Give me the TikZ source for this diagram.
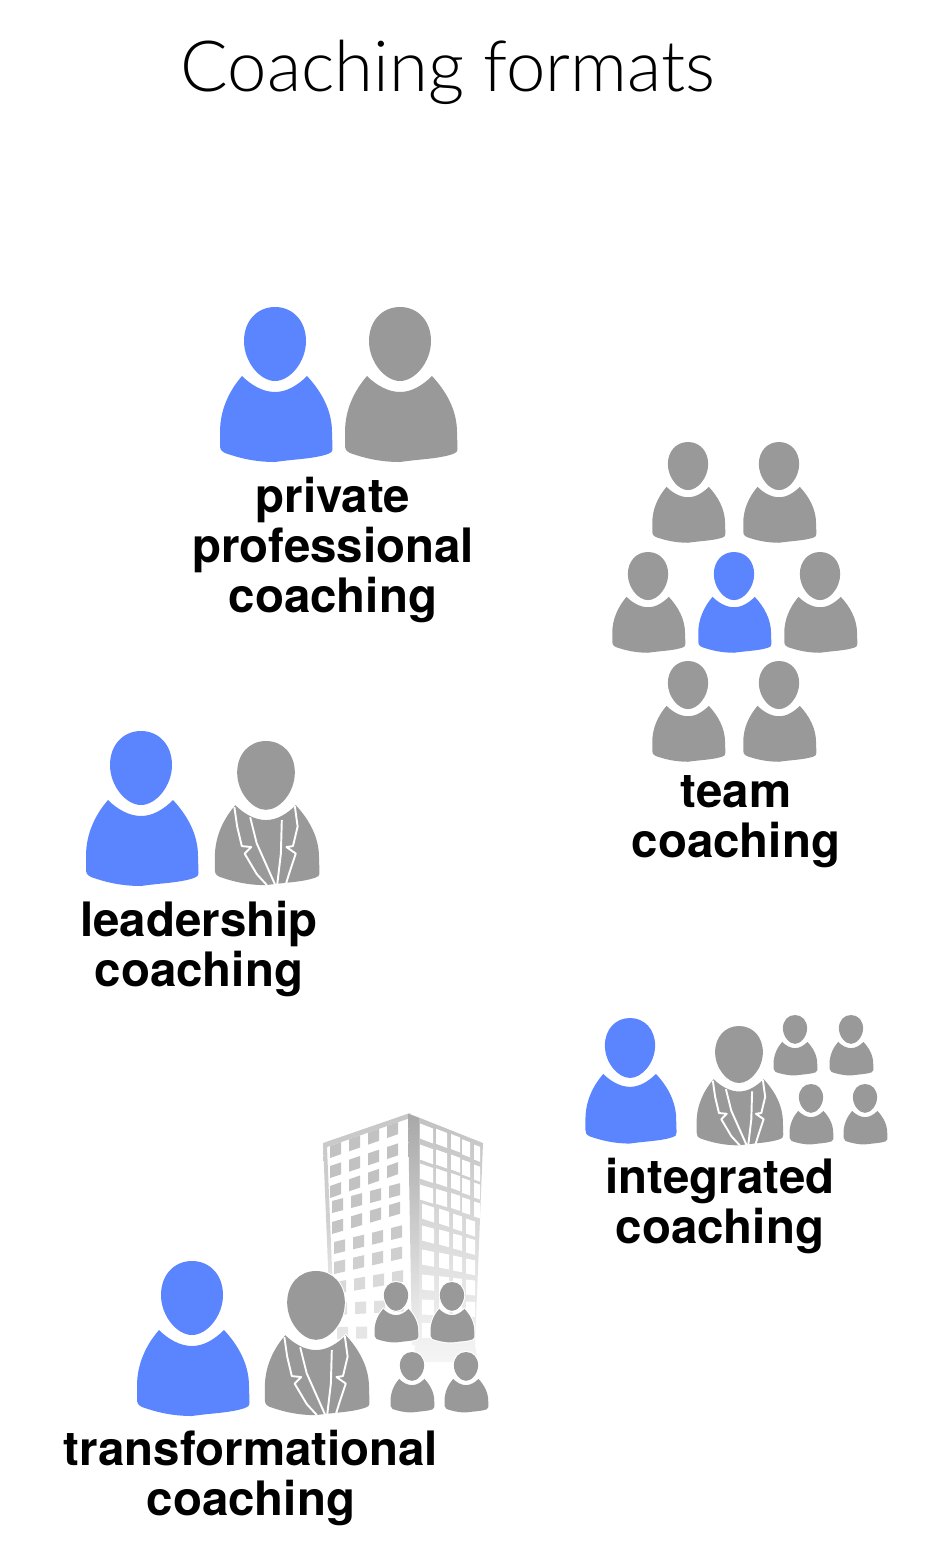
\documentclass[tikz,border=0pt]{standalone}
\usepackage{fontspec}
\setmainfont{TeX Gyre Heros}
\newfontfamily\titlefont[UprightFont=* Light]{Lato}
\usepackage{xcolor}
\usetikzlibrary{calc}
\definecolor{coachblue}{HTML}{5A85FF}
\definecolor{coachgray}{HTML}{999999}
\tikzset{
    label/.style={font=\fontsize{27}{28.3}\selectfont\bfseries, align=center, inner sep=0pt},
    personblue/.style={fill=coachblue},
    persongray/.style={fill=coachgray},
    halo/.style={draw=white, line width=1.2pt},
    pics/person/.style={code={
        % head
        \path[pic actions] (0,0) .. controls (18,0) and (31,14) .. (31,34)
            .. controls (31,55) and (15,74) .. (0,74)
            .. controls (-15,74) and (-31,55) .. (-31,34)
            .. controls (-31,14) and (-18,0) .. (0,0) -- cycle;
        % body
        \path[pic actions] (-33,69) .. controls (-24,78) and (-12,85) .. (0,85)
            .. controls (12,85) and (23,78) .. (32,69)
            .. controls (46,84) and (57,103) .. (57,125)
            -- (57.5,141) .. controls (57.5,145) and (56,146) .. (53,147)
            .. controls (38,152) and (20,152) .. (0,155)
            .. controls (-20,155) and (-36,151) .. (-50,146)
            .. controls (-54,144) and (-55,142) .. (-55,138)
            -- (-55,125) .. controls (-55,103) and (-46,84) .. (-33,69) -- cycle;
    }},
    pics/suit/.style={code={
        \draw[white, line width=1.1pt, line join=round]
            (-34,71) -- (-31,92) -- (-26,113) -- (-16,114) -- (-23,121) -- (-10,143) -- (1,155);
        \draw[white, line width=1.1pt] (-17,82) -- (-10,110) -- (10,155);
        \draw[white, line width=1.1pt] (17,85) -- (16,121) -- (12,155);
        \draw[white, line width=1.1pt, line join=round]
            (31,70) -- (34,92) -- (29,113) -- (22,114) -- (32,121) -- (26,139) -- (21,155);
    }},
}

\begin{document}
\begin{tikzpicture}[x=0.02cm, y=-0.02cm]
    \useasboundingbox (0,0) rectangle (937,1563);

    % Title
    \node[font=\titlefont\fontsize{40.2}{44}\selectfont, inner sep=0pt] (title) at (448,72) {Coaching formats};

    % Private professional coaching
    \pic[personblue] at (275,307) {person};
    \pic[persongray] at (400,307) {person};
    \node[label] (private) at (333,550) {private\\professional\\coaching};

    % Team coaching
    \foreach \px/\py in {688/442, 779/442, 648/552, 820/552, 688/661, 779/661} {
        \pic[persongray, scale=0.65] at (\px,\py) {person};
    }
    \pic[personblue, scale=0.65] at (734,552) {person};
    \node[label] (team) at (736,822) {team\\coaching};

    % Leadership coaching
    \pic[personblue] at (141,731) {person};
    \pic[persongray, scale=0.93] at (266,741) {person};
    \pic[scale=0.93] at (266,741) {suit};
    \node[label] (leadership) at (199,949) {leadership\\coaching};

    % Integrated coaching
    \pic[personblue, scale=0.81] at (630,1018) {person};
    \pic[persongray, scale=0.77] at (739,1026) {person};
    \pic[scale=0.77] at (739,1026) {suit};
    \foreach \px/\py in {795/1015, 851/1015, 811/1084, 865/1084} {
        \pic[persongray, scale=0.39] at (\px,\py) {person};
    }
    \node[label] (integrated) at (720,1206) {integrated\\coaching};

    % Building, left face
    \fill[white] (324,1145) -- (410,1114) -- (414,1350) -- (333,1350) -- cycle;
    \shade[top color=black!22, bottom color=white, middle color=black!18, shading angle=0]
        (323,1143) -- (410,1113) -- (410,1118) -- (327,1147) -- (335,1340) -- (331,1340) -- cycle;
    % Building, right face
    \shade[top color=black!24, middle color=black!16, bottom color=black!4]
        (410,1114) -- (483,1143) -- (475,1345) -- (478,1362) -- (415,1362) -- cycle;
    \shade[top color=black!34, bottom color=black!5]
        (408,1114) -- (419,1118) -- (419,1345) -- (412,1345) -- cycle;
    % Windows on the left face
    \foreach \yy/\rr/\xs/\gr in {1152/20/0/24, 1172/19/0/24, 1192/20/0/24, 1207/15/2/23, 1228/17/2/23,
        1248/14/4/21, 1268/13/4/19, 1288/10/5/15, 1309/3/6/12, 1333/1/7/10} {
        \foreach \i in {0,1,2,3} {
            \pgfmathsetmacro\wx{330+\i*19+\xs}
            \pgfmathsetmacro\wy{\yy-\rr*\i/3-6}
            \pgfmathsetmacro\wr{\rr*11/57}
            \fill[black!\gr] (\wx,\wy) -- ++(11,-\wr) -- ++(0,12) -- ++(-11,\wr) -- cycle;
        }
    }
    % Windows on the right face
    \foreach \yy/\rr in {1131/21, 1152/20, 1171/19, 1192/17} {
        \foreach \i/\cx/\wd in {0/420/13, 1/436/11, 2/451/9, 3/462/8, 4/474/6} {
            \pgfmathsetmacro\wy{\yy+\rr*\i/4-7.5}
            \pgfmathsetmacro\wr{\rr*\wd/55}
            \fill[white] (\cx,\wy) -- ++(\wd,\wr) -- ++(0,15) -- ++(-\wd,-\wr) -- cycle;
        }
    }
    \foreach \yy/\rr in {1211/15, 1233/12, 1257/9, 1282/5, 1307/2, 1330/0} {
        \foreach \i/\cx/\wd in {0/422/12, 1/439/10, 2/453/9, 3/466/9} {
            \pgfmathsetmacro\wy{\yy+\rr*\i/3-7.5}
            \pgfmathsetmacro\wr{\rr*\wd/45}
            \fill[white] (\cx,\wy) -- ++(\wd,\wr) -- ++(0,15) -- ++(-\wd,-\wr) -- cycle;
        }
    }

    % Transformational coaching
    \pic[personblue] at (192,1261) {person};
    \pic[persongray, halo, scale=0.93] at (316,1271) {person};
    \pic[persongray, scale=0.93] at (316,1271) {person};
    \pic[scale=0.93] at (316,1271) {suit};
    \foreach \px/\py in {396/1282, 452/1282, 412/1352, 466/1352} {
        \pic[persongray, halo, scale=0.39] at (\px,\py) {person};
        \pic[persongray, scale=0.39] at (\px,\py) {person};
    }
    \node[label] (transformational) at (251,1478) {transformational\\coaching};
\end{tikzpicture}
\end{document}
